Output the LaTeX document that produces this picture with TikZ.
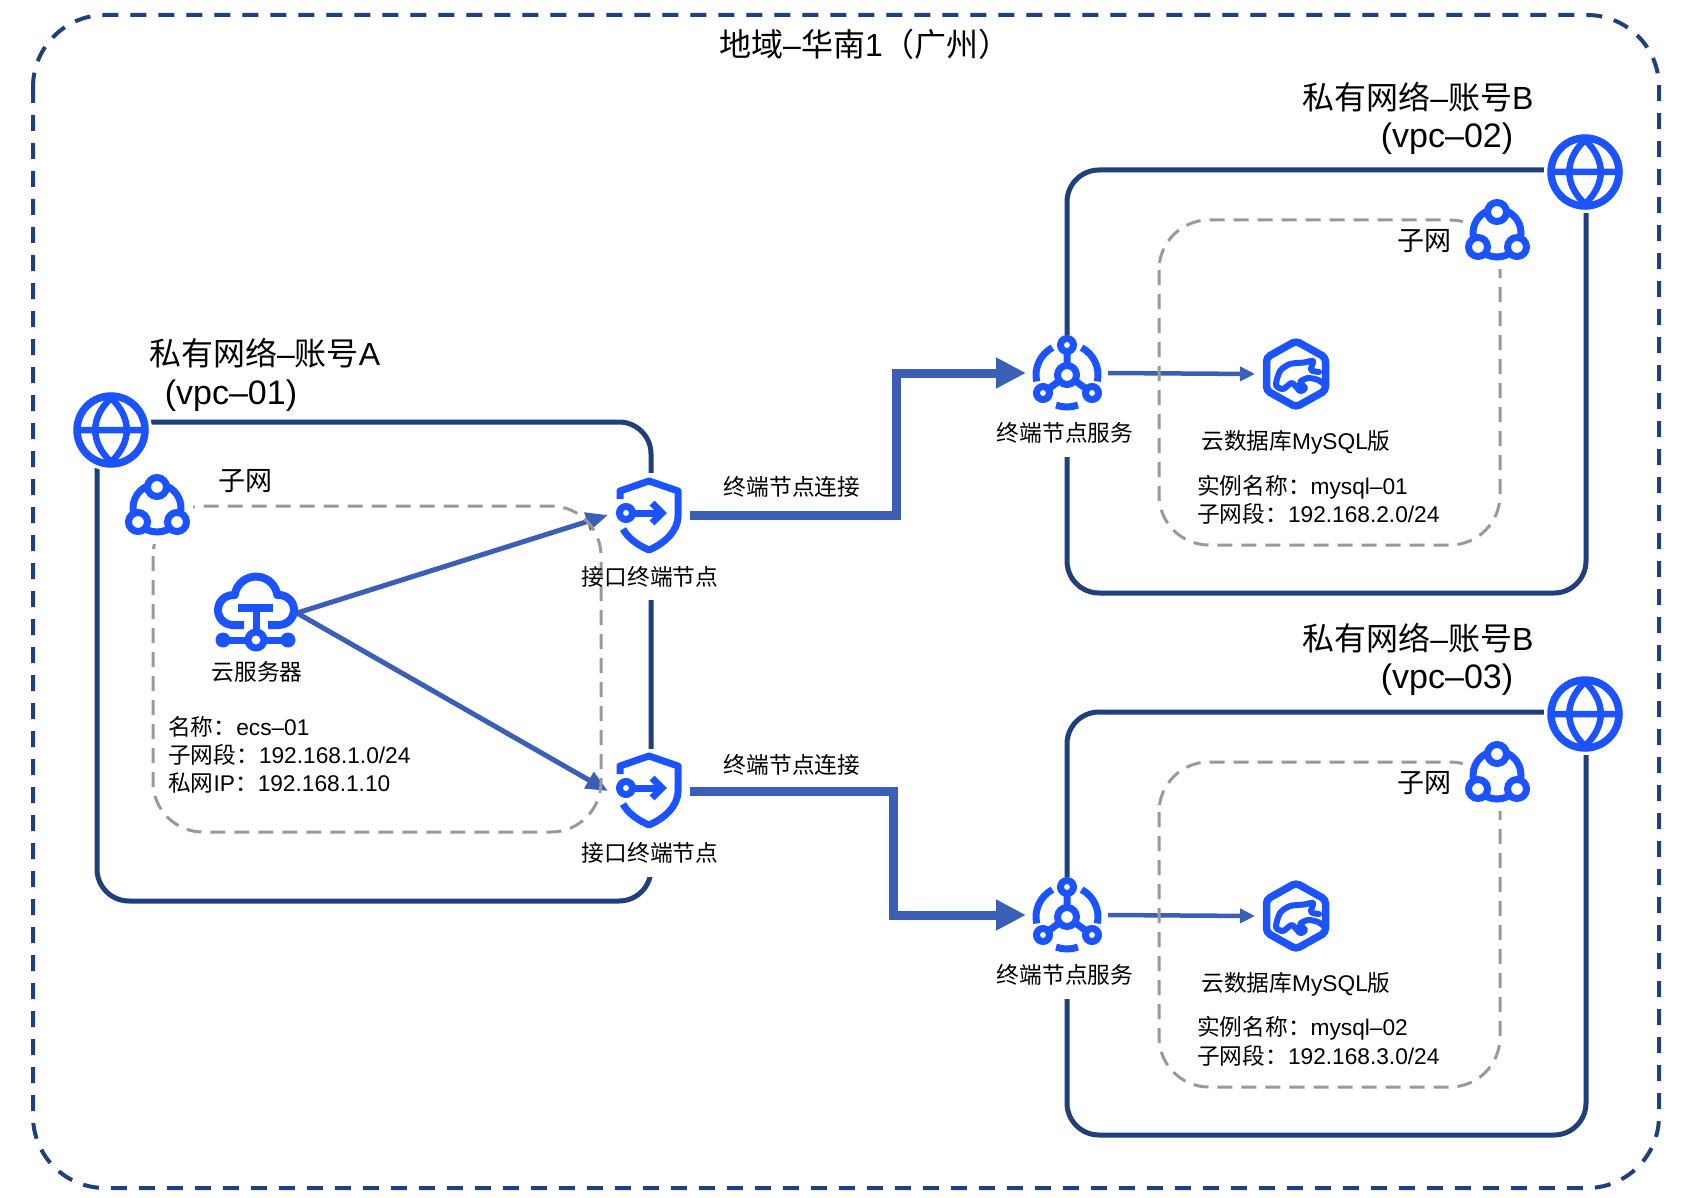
\documentclass[tikz,border=0pt]{standalone}
\usepackage{fontspec}
\setmainfont{Liberation Sans}
\newfontfamily\cjk{Noto Sans CJK SC}
\usetikzlibrary{arrows.meta}
\definecolor{navy}{HTML}{1F3F7D}
\definecolor{iconblue}{HTML}{1A53FF}
\definecolor{linkblue}{HTML}{3A5FB5}
\definecolor{dashgray}{HTML}{999999}
\newcommand{\zh}[1]{{\cjk #1}}
\tikzset{
  regionline/.style={draw=navy,line width=4pt,dash pattern=on 16pt off 12pt,rounded corners=72pt},
  vpcline/.style={draw=navy,line width=5pt,rounded corners=32pt},
  subnetline/.style={draw=dashgray,line width=3pt,dash pattern=on 15pt off 9pt,rounded corners=50pt},
  iconbox/.style={rectangle,inner sep=0pt,outer sep=0pt,minimum width=82pt,minimum height=82pt},
  thicklink/.style={draw=linkblue,line width=9pt,-{Triangle[length=30pt,width=29pt]}},
  thinlink/.style={draw=linkblue,line width=5pt,-{Triangle[length=22pt,width=18pt]}},
  dblink/.style={draw=linkblue,line width=4.5pt,-{Triangle[length=15pt,width=14pt]}},
  small/.style={inner sep=0pt,font=\fontsize{22.7}{26}\selectfont},
  mid/.style={inner sep=0pt,font=\fontsize{27}{32}\selectfont},
  big/.style={inner sep=0pt,font=\fontsize{32}{36}\selectfont},
  vpcid/.style={inner sep=0pt,font=\fontsize{34}{38}\selectfont},
  ico/.style={draw=iconblue,line width=7pt},
  pics/globe/.style={code={
    \draw[ico,line width=7.5pt,fill=white] (0,0) circle[radius=34pt];
    \draw[ico,line width=6.5pt,line join=round] (-33,0) -- (33,0)
      (0,-32) .. controls (-21,-12) and (-21,12) .. (0,32)
      (0,-32) .. controls (21,-12) and (21,12) .. (0,32);
  }},
  pics/subnet/.style={code={
    \draw[ico] (0,0) circle[radius=24pt];
    \foreach \px/\py in {0/-21,-19/14,20/14}
      \draw[ico,fill=white] (\px,\py) circle[radius=9.5pt];
  }},
  pics/cloudsrv/.style={code={
    \draw[ico,line width=8pt,line join=round] (-12,12) -- (-23,12)
      arc[start angle=270,end angle=83.5,radius=15pt]
      arc[start angle=172,end angle=8,radius=21.5pt]
      arc[start angle=96.5,end angle=-90,radius=15pt] -- (12,12);
    \draw[ico,line width=8pt] (-18,-5) -- (17,-5);
    \draw[ico] (0,-5) -- (0,27) (-33,27) -- (32,27);
    \fill[iconblue] (-33,27) circle[radius=7.5pt] (32,27) circle[radius=7.5pt];
    \draw[ico,fill=white] (0,27) circle[radius=8pt];
  }},
  pics/shield/.style={code={
    \draw[ico,line join=round] (-29,-18) -- (-29,-26) -- (0,-36) -- (29,-26) -- (29,-1)
      .. controls (29,15) and (14,27) .. (0,33)
      .. controls (-12,28) and (-22,20) .. (-26,12);
    \draw[ico] (-23,-4) circle[radius=6.5pt];
    \draw[ico] (-16,-4) -- (12,-4);
    \draw[ico] (3,-14) -- (13,-4) -- (3,6);
  }},
  pics/service/.style={code={
    \begin{scope}[shift={(0,2)}]
    \draw[ico] (0,0) -- (0,-30) (0,0) -- (-24,18) (0,0) -- (25,18);
    \draw[ico,fill=white] (0,0) circle[radius=9.5pt];
    \draw[ico,fill=white] (0,-30) circle[radius=6.5pt];
    \draw[ico,fill=white] (-24,18) circle[radius=6.5pt];
    \draw[ico,fill=white] (25,18) circle[radius=6.5pt];
    \draw[ico] (118:31pt) arc[start angle=118,end angle=192,radius=31pt];
    \draw[ico] (62:31pt) arc[start angle=62,end angle=-12,radius=31pt];
    \draw[ico] (250:32pt) arc[start angle=250,end angle=290,radius=32pt];
    \end{scope}
  }},
  pics/mysqldb/.style={code={
    \draw[ico,line width=7.5pt,rounded corners=4pt]
      (0,-33) -- (29.5,-16.5) -- (29.5,16.5) -- (0,33) -- (-29.5,16.5) -- (-29.5,-16.5) -- cycle;
    \draw[ico,line width=6pt,line join=round,line cap=round]
      plot[smooth,tension=.45] coordinates {(23,-2) (15,-4) (17,-13) (8,-11.5) (-6,-10) (-16,-3)
        (-20,11) (-13,15) (-4,9) (4,17) (9,14) (4,8) (12,4) (22,6) (29,11)};
  }},
}
\begin{document}
\begin{tikzpicture}[x=1pt,y=-1pt]
\useasboundingbox (0,0) rectangle (1688,1198);

% region border
\path[regionline] (33,15) rectangle (1659,1188);

% VPC frames, opened where an icon or label sits on the border
\path[vpcline] (97,422) rectangle (651,901);
\path[vpcline] (1067,170) rectangle (1586,593);
\path[vpcline] (1067,712) rectangle (1586,1135);
\fill[white] (640,473) rectangle (662,600);
\fill[white] (640,749) rectangle (662,877);
\fill[white] (1056,335) rectangle (1078,457);
\fill[white] (1056,877) rectangle (1078,999);

% anchors of the services
\node[iconbox] (ecs) at (256,613) {};
\node[iconbox] (epA) at (649,515) {};
\node[iconbox] (epB) at (649,791) {};
\node[iconbox] (svcA) at (1067,373) {};
\node[iconbox] (svcB) at (1067,915) {};
\node[iconbox] (dbA) at (1296,374) {};
\node[iconbox] (dbB) at (1296,916) {};
\coordinate (bendA) at (896,440);
\coordinate (bendB) at (893,850);

% connections
\draw[thicklink] (epA.east) -| (bendA) |- (svcA.west);
\draw[thicklink] (epB.east) -| (bendB) |- (svcB.west);
\draw[thinlink] (ecs.east) -- (epA.west);
\draw[thinlink] (ecs.east) -- (epB.west);
\draw[dblink] (svcA.east) -- (dbA.west);
\draw[dblink] (svcB.east) -- (dbB.west);

% subnets
\path[subnetline] (153,506) rectangle (601,832);
\path[subnetline] (1159,220) rectangle (1500,545);
\path[subnetline] (1159,762) rectangle (1500,1087);

% white discs keep the borders clear of the round icons
\node[circle,fill=white,inner sep=0pt,minimum size=72pt] (netA) at (157,508) {};
\node[circle,fill=white,inner sep=0pt,minimum size=72pt] (netB) at (1497,233) {};
\node[circle,fill=white,inner sep=0pt,minimum size=72pt] (netC) at (1497,775) {};
\node[circle,fill=white,inner sep=0pt,minimum size=82pt] (gloA) at (111,430) {};
\node[circle,fill=white,inner sep=0pt,minimum size=82pt] (gloB) at (1585,172) {};
\node[circle,fill=white,inner sep=0pt,minimum size=82pt] (gloC) at (1585,714) {};

% icons
\pic at (gloA) {globe};
\pic at (gloB) {globe};
\pic at (gloC) {globe};
\pic at (netA) {subnet};
\pic at (netB) {subnet};
\pic at (netC) {subnet};
\pic at (ecs) {cloudsrv};
\pic at ([yshift=-2pt]epA.center) {shield};
\pic at ([yshift=-1pt]epB.center) {shield};
\pic at (svcA) {service};
\pic at (svcB) {service};
\pic at (dbA) {mysqldb};
\pic at (dbB) {mysqldb};

% titles
\node[big] (title) at (865,44) {\zh{地域}–\zh{华南}1\zh{（广州）}};
\node[big,anchor=west] (nameA) at (149,353) {\zh{私有网络}–\zh{账号}A};
\node[vpcid] (idA) at (231,396) {(vpc–01)};
\node[big] (nameB) at (1418,97) {\zh{私有网络}–\zh{账号}B};
\node[vpcid] (idB) at (1447,139) {(vpc–02)};
\node[big] (nameC) at (1418,638) {\zh{私有网络}–\zh{账号}B};
\node[vpcid] (idC) at (1447,680) {(vpc–03)};
\node[mid] (subA) at (245,481) {\zh{子网}};
\node[mid] (subB) at (1424,241) {\zh{子网}};
\node[mid] (subC) at (1424,783) {\zh{子网}};

% service labels
\node[small] (lecs) at (257,672) {\zh{云服务器}};
\node[small] (lepA) at (650,577) {\zh{接口终端节点}};
\node[small] (lepB) at (650,853) {\zh{接口终端节点}};
\node[small] (lconA) at (792,487) {\zh{终端节点连接}};
\node[small] (lconB) at (792,765) {\zh{终端节点连接}};
\node[small] (lsvcA) at (1065,433) {\zh{终端节点服务}};
\node[small] (lsvcB) at (1065,975) {\zh{终端节点服务}};
\node[small] (ldbA) at (1296,442) {\zh{云数据库}MySQL\zh{版}};
\node[small] (ldbB) at (1296,984) {\zh{云数据库}MySQL\zh{版}};

% instance details
\node[small,anchor=west] (i1) at (168,727) {\zh{名称：}ecs–01};
\node[small,anchor=west] (i2) at (168,755) {\zh{子网段：}192.168.1.0/24};
\node[small,anchor=west] (i3) at (168,783) {\zh{私网}IP\zh{：}192.168.1.10};
\node[small,anchor=west] (i4) at (1197,487) {\zh{实例名称：}mysql–01};
\node[small,anchor=west] (i5) at (1197,514) {\zh{子网段：}192.168.2.0/24};
\node[small,anchor=west] (i6) at (1197,1028) {\zh{实例名称：}mysql–02};
\node[small,anchor=west] (i7) at (1197,1056) {\zh{子网段：}192.168.3.0/24};
\end{tikzpicture}
\end{document}
